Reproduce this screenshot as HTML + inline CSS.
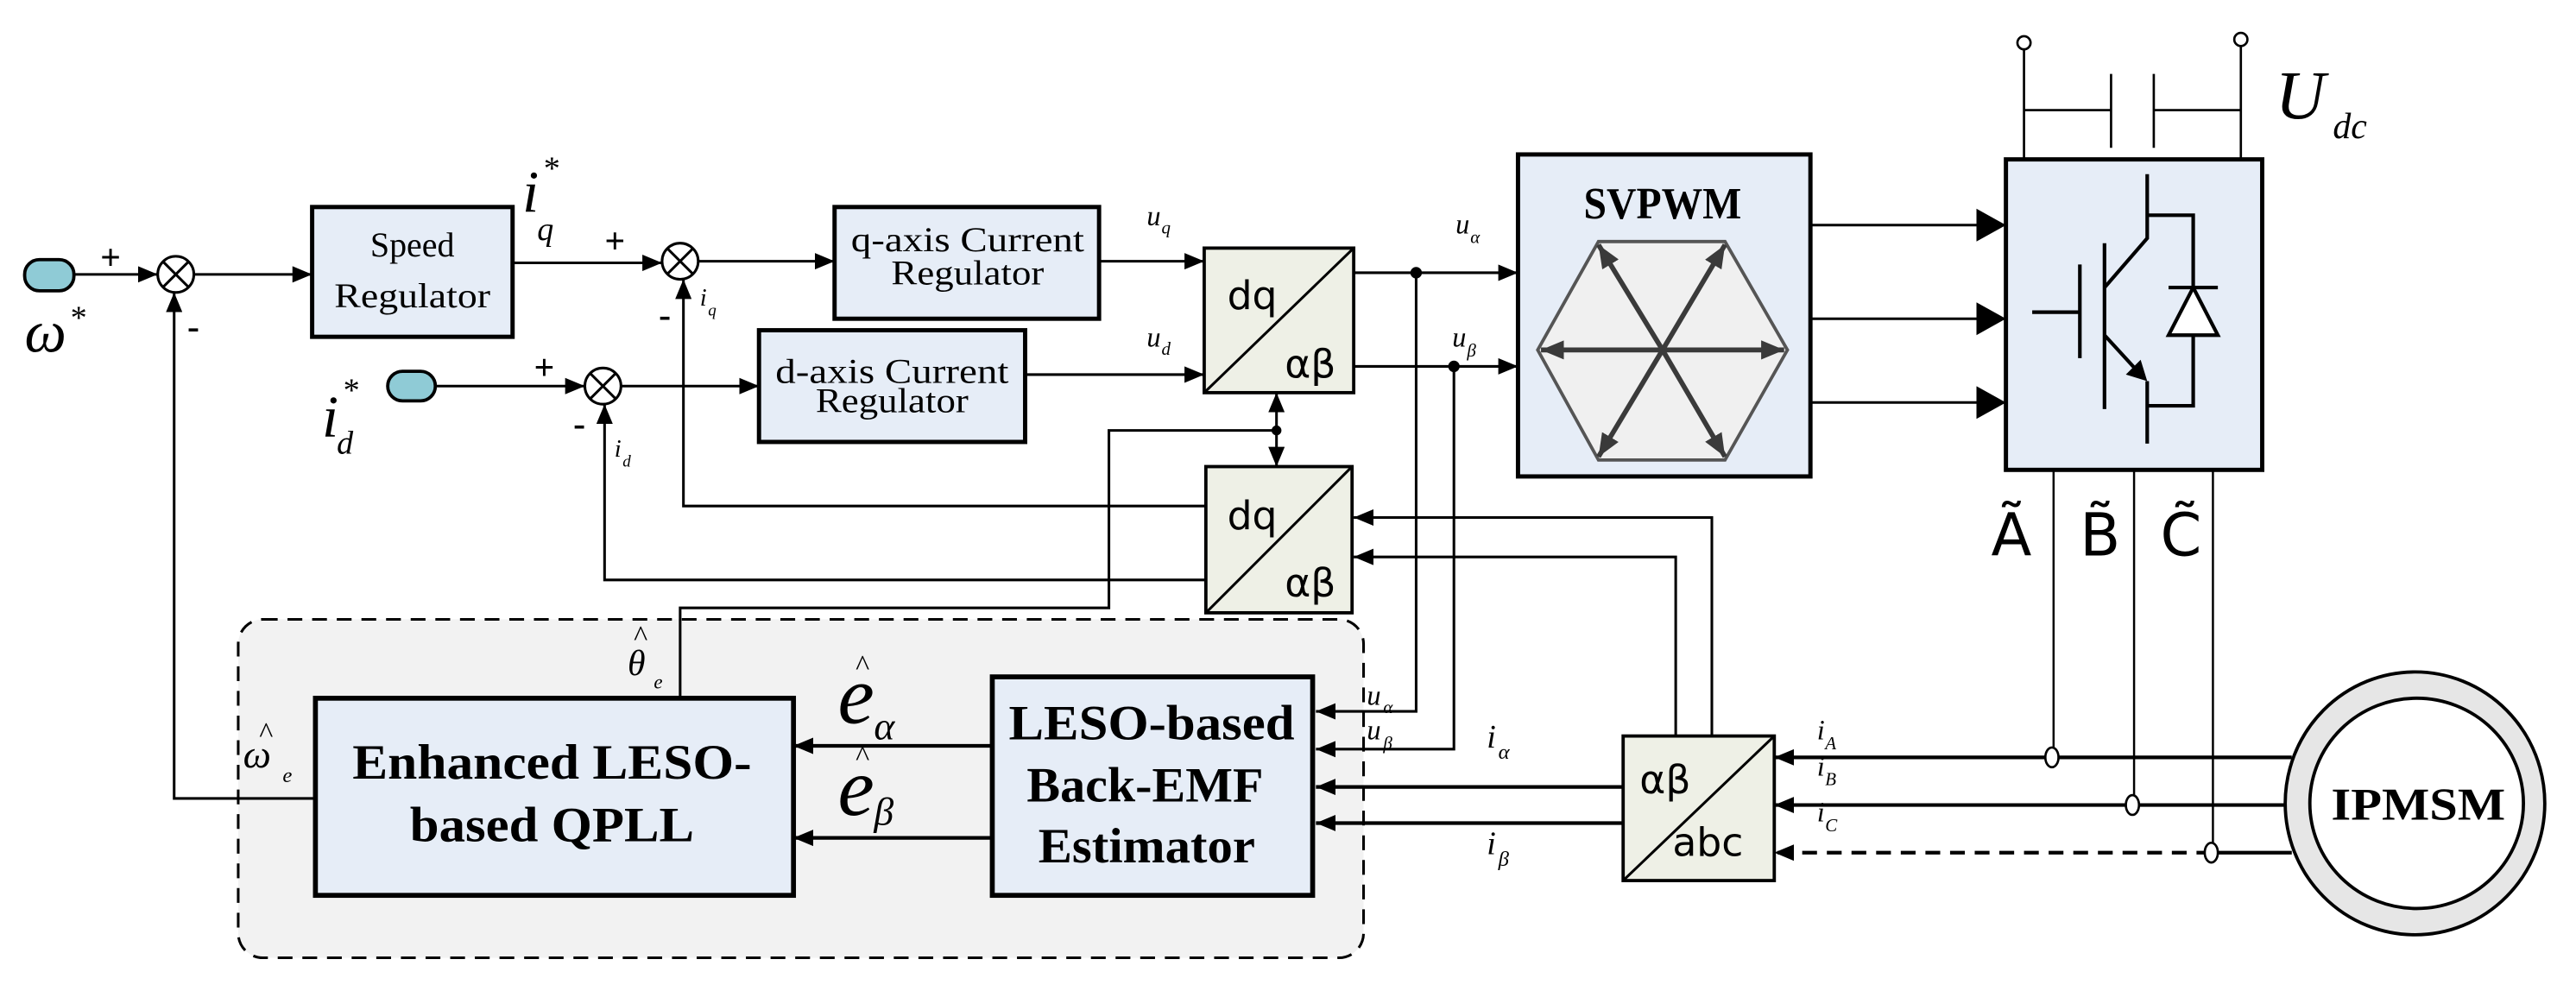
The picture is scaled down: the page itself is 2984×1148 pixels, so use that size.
<!DOCTYPE html>
<html><head><meta charset="utf-8"><style>html,body{margin:0;padding:0;background:#fff}svg{display:block}</style></head><body>
<svg width="2984" height="1148" viewBox="0 0 1568 603.2" xmlns="http://www.w3.org/2000/svg" font-family="'Liberation Serif', serif">
<defs>
<marker id="a" viewBox="0 0 12 10" refX="12" refY="5" markerWidth="12" markerHeight="10" markerUnits="userSpaceOnUse" orient="auto"><path d="M0,0L12,5L0,10z" fill="#000"/></marker>
<marker id="b" viewBox="0 0 18 20" refX="18" refY="10" markerWidth="18" markerHeight="20" markerUnits="userSpaceOnUse" orient="auto"><path d="M0,0L18,10L0,20z" fill="#000"/></marker>
<marker id="h" viewBox="0 0 12 10" refX="12" refY="5" markerWidth="14" markerHeight="12" markerUnits="userSpaceOnUse" orient="auto"><path d="M0,0L12,5L0,10z" fill="#3a3a3a"/></marker>
</defs>

<rect x="145" y="377" width="685" height="206" rx="15" fill="#f2f2f2" stroke="#000" stroke-width="1.6" stroke-dasharray="9,6"/>

<g stroke="#000" stroke-width="2.6" fill="#e6edf7">
<rect x="190" y="126" width="122" height="79"/>
<rect x="508" y="126" width="161" height="68"/>
<rect x="462" y="201" width="162" height="68"/>
<rect x="924" y="94" width="178" height="196"/>
<rect x="1221" y="97" width="156" height="189"/>
<rect x="192" y="425" width="291" height="120" stroke-width="3"/>
<rect x="604" y="412" width="195" height="133" stroke-width="3"/>
</g>
<g stroke="#000" stroke-width="2" fill="#eef0e6">
<rect x="733" y="151" width="91" height="88"/>
<rect x="734" y="284" width="89" height="89"/>
<rect x="988" y="448" width="92" height="88"/>
</g>
<g stroke="#000" stroke-width="1.6">
<line x1="733" y1="239" x2="824" y2="151"/>
<line x1="734" y1="373" x2="823" y2="284"/>
<line x1="988" y1="536" x2="1080" y2="448"/>
</g>

<rect x="15" y="158" width="30" height="19" rx="9" fill="#8fcbd6" stroke="#000" stroke-width="2"/>
<rect x="236" y="226" width="29" height="18" rx="9" fill="#8fcbd6" stroke="#000" stroke-width="2"/>

<g stroke="#000" stroke-width="1.6" fill="#fff">
<circle cx="107" cy="167" r="11"/><path d="M99,159L115,175M115,159L99,175"/>
<circle cx="414" cy="159" r="11"/><path d="M406,151L422,167M422,151L406,167"/>
<circle cx="367" cy="235" r="11"/><path d="M359,227L375,243M375,227L359,243"/>
</g>

<g stroke="#000" stroke-width="1.6" fill="none">
<path d="M45,167H96" marker-end="url(#a)"/>
<path d="M118,167H190" marker-end="url(#a)"/>
<path d="M312,160H403" marker-end="url(#a)"/>
<path d="M425,159H508" marker-end="url(#a)"/>
<path d="M265,235H356" marker-end="url(#a)"/>
<path d="M378,235H462" marker-end="url(#a)"/>
<path d="M669,159H733" marker-end="url(#a)"/>
<path d="M624,228H733" marker-end="url(#a)"/>
<path d="M824,166H924" marker-end="url(#a)"/>
<path d="M824,223H924" marker-end="url(#a)"/>
<path d="M862,166V433H801" marker-end="url(#a)"/>
<path d="M885,223V456H801" marker-end="url(#a)"/>
<path d="M777,262V239" marker-end="url(#a)"/>
<path d="M777,262V284" marker-end="url(#a)"/>
<path d="M777,262H675V370H414V425"/>
<path d="M734,308H416V170" marker-end="url(#a)"/>
<path d="M734,353H368V246" marker-end="url(#a)"/>
<path d="M192,486H106V178" marker-end="url(#a)"/>
<path d="M604,454H483" stroke-width="2.2" marker-end="url(#a)"/>
<path d="M604,510H483" stroke-width="2.2" marker-end="url(#a)"/>
<path d="M988,479H801" stroke-width="2.2" marker-end="url(#a)"/>
<path d="M988,501H801" stroke-width="2.2" marker-end="url(#a)"/>
<path d="M1042,448V315H824" marker-end="url(#a)"/>
<path d="M1020,448V339H824" marker-end="url(#a)"/>
<path d="M1395,461H1080" stroke-width="2.2" marker-end="url(#a)"/>
<path d="M1391,490H1080" stroke-width="2.2" marker-end="url(#a)"/>
<path d="M1395,519H1346" stroke-width="2.2"/>
<path d="M1346,519H1080" stroke-width="2.2" stroke-dasharray="9,6" marker-end="url(#a)"/>
<path d="M1250,286V461M1299,286V490M1347,286V519" stroke-width="1.3"/>
<path d="M1102,137H1221" marker-end="url(#b)"/>
<path d="M1102,194H1221" marker-end="url(#b)"/>
<path d="M1102,245H1221" marker-end="url(#b)"/>
<path d="M1232,30V97M1364,28V97M1232,67H1285M1285,45V90M1311,45V90M1311,67H1364" stroke-width="1.4"/>
</g>
<g fill="#000"><circle cx="862" cy="166" r="3.5"/><circle cx="885" cy="223" r="3.5"/><circle cx="777" cy="262" r="3"/></g>
<g fill="#fff" stroke="#000" stroke-width="1.4">
<circle cx="1232" cy="26" r="4"/><circle cx="1364" cy="24" r="4"/>
<ellipse cx="1249" cy="461" rx="4" ry="6"/><ellipse cx="1298" cy="490" rx="4" ry="6"/><ellipse cx="1346" cy="519" rx="4" ry="6"/>
</g>

<polygon points="973,147 1050,147 1088,213 1050,280 973,280 936,213" fill="#f0f0f0" stroke="#555" stroke-width="2"/>
<g stroke="#3a3a3a" stroke-width="3" fill="none">
<path d="M1012,213L973,149" marker-end="url(#h)"/>
<path d="M1012,213L1050,149" marker-end="url(#h)"/>
<path d="M1012,213L1086,213" marker-end="url(#h)"/>
<path d="M1012,213L938,213" marker-end="url(#h)"/>
<path d="M1012,213L973,278" marker-end="url(#h)"/>
<path d="M1012,213L1050,278" marker-end="url(#h)"/>
</g>

<g stroke="#000" stroke-width="2.2" fill="none">
<path d="M1307,106V145L1281,175"/>
<path d="M1281,148V249"/>
<path d="M1266,161V218M1237,190H1266"/>
<path d="M1281,204L1303,228"/>
<path d="M1307,232V270"/>
<path d="M1307,131H1335V175M1335,204V247H1307"/>
<path d="M1320,175H1350"/>
<path d="M1335,175L1320,204H1350Z" fill="#fff"/>
</g>
<path d="M1307,232L1294,228L1303,219Z" fill="#000"/>

<ellipse cx="1470" cy="489" rx="79" ry="80" fill="#e6e6e6" stroke="#000" stroke-width="2"/>
<ellipse cx="1471" cy="489" rx="65" ry="64" fill="#fff" stroke="#000" stroke-width="2"/>

<g font-size="21" text-anchor="middle">
<text x="251" y="156">Speed</text>
<text x="251" y="187" textLength="95" lengthAdjust="spacingAndGlyphs">Regulator</text>
<text x="589" y="153" textLength="142" lengthAdjust="spacingAndGlyphs">q-axis Current</text>
<text x="589" y="173" textLength="93" lengthAdjust="spacingAndGlyphs">Regulator</text>
<text x="543" y="233" textLength="142" lengthAdjust="spacingAndGlyphs">d-axis Current</text>
<text x="543" y="251" textLength="93" lengthAdjust="spacingAndGlyphs">Regulator</text>
</g>
<g font-weight="bold" text-anchor="middle">
<text x="1012" y="133" font-size="27" textLength="96" lengthAdjust="spacingAndGlyphs">SVPWM</text>
<text x="336" y="474" font-size="30" textLength="243" lengthAdjust="spacingAndGlyphs">Enhanced LESO-</text>
<text x="336" y="512" font-size="30" textLength="173" lengthAdjust="spacingAndGlyphs">based QPLL</text>
<text x="701" y="450" font-size="30" textLength="174" lengthAdjust="spacingAndGlyphs">LESO-based</text>
<text x="697" y="488" font-size="30" textLength="144" lengthAdjust="spacingAndGlyphs">Back-EMF</text>
<text x="698" y="525" font-size="30" textLength="132" lengthAdjust="spacingAndGlyphs">Estimator</text>
<text x="1472" y="499" font-size="28" textLength="106" lengthAdjust="spacingAndGlyphs">IPMSM</text>
</g>
<g font-family="'DejaVu Sans', sans-serif" font-size="24">
<text x="747" y="188">dq</text><text x="782" y="230">αβ</text>
<text x="747" y="322">dq</text><text x="782" y="363">αβ</text>
<text x="998" y="483">αβ</text><text x="1018" y="521">abc</text>
<text x="1212" y="338" font-size="36">Ã</text>
<text x="1266" y="338" font-size="36">B̃</text>
<text x="1315" y="338" font-size="36">C̃</text>
</g>
<g font-size="22" font-weight="bold">
<text x="61" y="164">+</text><text x="114" y="206">-</text>
<text x="368" y="154">+</text><text x="401" y="199">-</text>
<text x="325" y="231">+</text><text x="349" y="265">-</text>
</g>
<g font-style="italic">
<text x="15" y="214" font-size="36">ω</text><text x="42" y="200" font-size="20">*</text>
<text x="318" y="129" font-size="36">i</text><text x="327" y="146" font-size="20">q</text><text x="330" y="109" font-size="20">*</text>
<text x="196" y="266" font-size="36">i</text><text x="205" y="276" font-size="20">d</text><text x="208" y="244" font-size="20">*</text>
<text x="426" y="186" font-size="15">i</text><text x="431" y="192" font-size="10">q</text>
<text x="374" y="278" font-size="15">i</text><text x="379" y="284" font-size="10">d</text>
<text x="698" y="137" font-size="17">u</text><text x="707" y="142" font-size="11">q</text>
<text x="698" y="211" font-size="17">u</text><text x="707" y="216" font-size="11">d</text>
<text x="886" y="142" font-size="17">u</text><text x="895" y="148" font-size="11">α</text>
<text x="884" y="211" font-size="17">u</text><text x="893" y="217" font-size="11">β</text>
<text x="832" y="429" font-size="17">u</text><text x="842" y="434" font-size="11">α</text>
<text x="832" y="450" font-size="17">u</text><text x="842" y="456" font-size="11">β</text>
<text x="905" y="455" font-size="20">i</text><text x="912" y="462" font-size="13">α</text>
<text x="905" y="520" font-size="20">i</text><text x="912" y="527" font-size="13">β</text>
<text x="1106" y="450" font-size="17">i</text><text x="1111" y="456" font-size="11">A</text>
<text x="1106" y="472" font-size="17">i</text><text x="1111" y="478" font-size="11">B</text>
<text x="1106" y="500" font-size="17">i</text><text x="1111" y="506" font-size="11">C</text>
<text x="1385" y="72" font-size="42">U</text><text x="1420" y="84" font-size="22">dc</text>
<text x="510" y="440" font-size="50">e</text><text x="532" y="450" font-size="24">α</text>
<text x="510" y="496" font-size="50">e</text><text x="532" y="502" font-size="24">β</text>
<text x="382" y="411" font-size="22">θ</text><text x="398" y="419" font-size="12">e</text>
<text x="148" y="467" font-size="24">ω</text><text x="172" y="476" font-size="13">e</text>
</g>
<g font-size="18" text-anchor="middle">
<text x="525" y="411">^</text><text x="525" y="466">^</text>
<text x="390" y="393">^</text><text x="162" y="452">^</text>
</g>
</svg>
</body></html>
